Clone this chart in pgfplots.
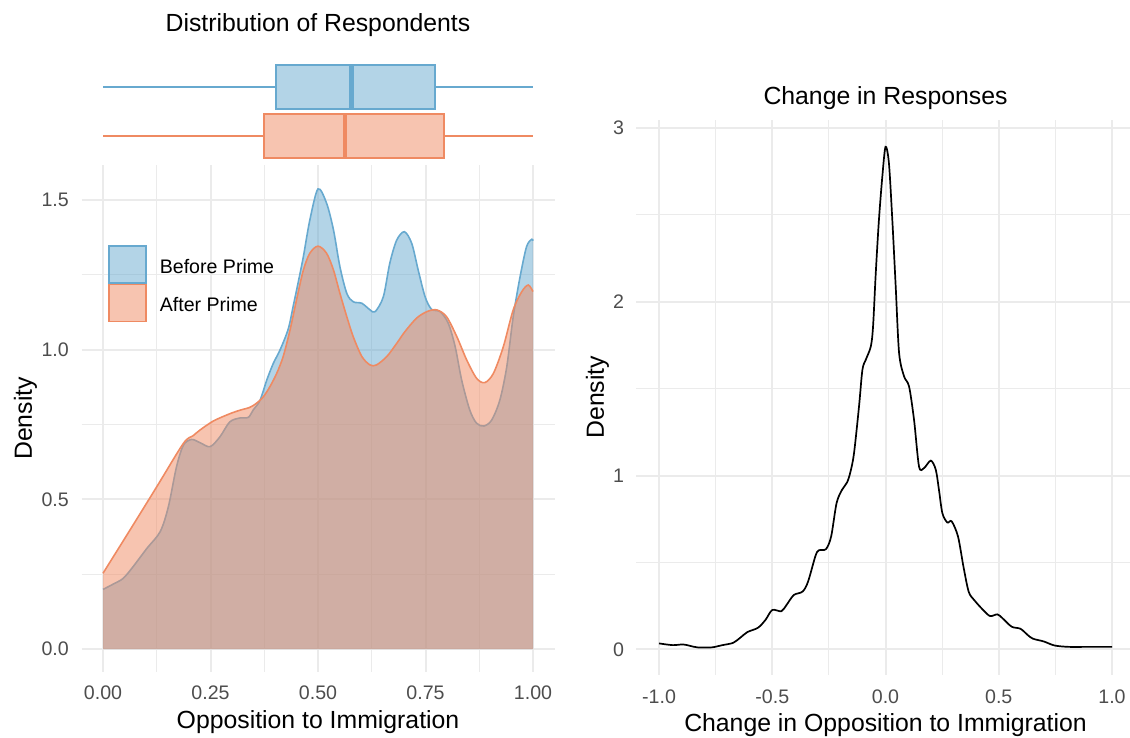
\documentclass[border=0pt]{standalone}
\usepackage{pgfplots}
\pgfplotsset{compat=1.18}
\usepgfplotslibrary{statistics}
\usepackage{fontspec}
\setmainfont{Liberation Sans}
\definecolor{bluec}{HTML}{67A9CF}
\definecolor{orangec}{HTML}{EF8A62}
\definecolor{gridc}{HTML}{EBEBEB}
\definecolor{tickc}{HTML}{4D4D4D}

\pgfplotstableread{
x y
0.000 0.199
0.024 0.217
0.047 0.236
0.070 0.275
0.102 0.336
0.133 0.392
0.152 0.475
0.171 0.609
0.187 0.681
0.206 0.700
0.226 0.689
0.249 0.676
0.272 0.709
0.295 0.759
0.319 0.772
0.338 0.774
0.350 0.800
0.365 0.830
0.381 0.899
0.396 0.954
0.412 1.000
0.431 1.070
0.443 1.150
0.454 1.225
0.466 1.311
0.481 1.433
0.500 1.537
0.520 1.489
0.536 1.400
0.551 1.277
0.567 1.188
0.582 1.160
0.602 1.155
0.621 1.133
0.633 1.127
0.652 1.177
0.667 1.289
0.683 1.366
0.701 1.394
0.718 1.355
0.733 1.266
0.749 1.177
0.764 1.135
0.784 1.127
0.803 1.088
0.819 1.010
0.834 0.899
0.853 0.798
0.869 0.754
0.886 0.745
0.904 0.765
0.923 0.832
0.939 0.943
0.954 1.110
0.970 1.244
0.985 1.344
0.997 1.369
1.000 1.364
}\before

\pgfplotstableread{
x y
0.000 0.253
0.063 0.398
0.125 0.542
0.187 0.687
0.209 0.712
0.226 0.732
0.257 0.762
0.295 0.786
0.319 0.798
0.341 0.807
0.357 0.821
0.373 0.843
0.388 0.876
0.404 0.921
0.419 0.977
0.435 1.066
0.450 1.166
0.466 1.266
0.481 1.322
0.500 1.346
0.520 1.322
0.536 1.266
0.551 1.188
0.567 1.110
0.582 1.043
0.602 0.977
0.621 0.949
0.636 0.949
0.660 0.977
0.683 1.021
0.702 1.060
0.729 1.105
0.753 1.127
0.776 1.133
0.799 1.110
0.823 1.043
0.846 0.965
0.869 0.904
0.888 0.890
0.908 0.921
0.931 1.010
0.954 1.133
0.974 1.194
0.989 1.216
1.000 1.194
}\after

\pgfplotstableread{
x y
-1.000 0.035
-0.940 0.025
-0.894 0.029
-0.863 0.021
-0.830 0.012
-0.768 0.012
-0.720 0.025
-0.673 0.038
-0.642 0.067
-0.610 0.100
-0.563 0.125
-0.530 0.170
-0.500 0.227
-0.460 0.220
-0.437 0.256
-0.405 0.313
-0.366 0.333
-0.342 0.390
-0.310 0.535
-0.295 0.570
-0.263 0.577
-0.240 0.650
-0.216 0.842
-0.192 0.918
-0.170 0.960
-0.155 1.020
-0.139 1.129
-0.117 1.397
-0.102 1.608
-0.087 1.666
-0.065 1.742
-0.055 1.857
-0.043 2.165
-0.029 2.471
-0.014 2.720
0.000 2.890
0.015 2.797
0.030 2.471
0.045 2.087
0.060 1.704
0.082 1.570
0.104 1.512
0.126 1.320
0.148 1.052
0.170 1.043
0.200 1.086
0.222 1.033
0.236 0.918
0.251 0.784
0.273 0.730
0.292 0.737
0.320 0.650
0.344 0.477
0.367 0.333
0.391 0.285
0.431 0.227
0.462 0.192
0.494 0.202
0.517 0.179
0.557 0.131
0.596 0.119
0.628 0.083
0.651 0.062
0.699 0.046
0.746 0.023
0.809 0.015
0.888 0.015
1.000 0.015
}\change

\pgfplotsset{
  gg/.style={
    scale only axis,
    anchor=south west,
    axis lines*=left,
    axis line style={draw=none},
    major tick length=0pt, minor tick length=0pt,
    xmajorgrids, ymajorgrids, xminorgrids, yminorgrids,
    major grid style={gridc, line width=1pt},
    minor grid style={gridc, line width=0.5pt},
    tick label style={font=\fontsize{9.8}{11}\selectfont, text=tickc},
    every axis x label/.style={at={(axis description cs:0.5,0)}, anchor=center, yshift=-25pt, font=\fontsize{12.4}{14}\selectfont},
    title style={font=\fontsize{12.4}{14}\selectfont, at={(axis description cs:0.5,1)}, anchor=center},
  }
}

\begin{document}
\begin{tikzpicture}
\useasboundingbox (0,0) rectangle (565pt,369pt);

% boxplots
\begin{axis}[
  scale only axis, anchor=south west, at={(40.75pt,287.5pt)},
  width=236.5pt, height=54pt,
  xmin=-0.05, xmax=1.05, ymin=0.45, ymax=2.65,
  axis lines*=left, axis line style={draw=none},
  xtick=\empty, ytick=\empty,
  boxplot/draw direction=x,
  title={Distribution of Respondents},
  title style={font=\fontsize{12.4}{14}\selectfont, at={(axis description cs:0.5,1)}, anchor=center, yshift=9pt},
]
\addplot[draw=bluec, fill=bluec, fill opacity=0.5, line width=1pt,
  boxplot/every median/.style={line width=2.2pt},
  boxplot prepared={draw position=2, lower whisker=0, lower quartile=0.403, median=0.578, upper quartile=0.7715, upper whisker=1, box extend=0.9, whisker extend=0}]
  coordinates {};
\addplot[draw=orangec, fill=orangec, fill opacity=0.5, line width=1pt,
  boxplot/every median/.style={line width=2.2pt},
  boxplot prepared={draw position=1, lower whisker=0, lower quartile=0.3735, median=0.563, upper quartile=0.792, upper whisker=1, box extend=0.9, whisker extend=0}]
  coordinates {};
\end{axis}

% densities
\begin{axis}[gg, at={(40.75pt,33pt)}, width=236.5pt, height=253.5pt,
  xmin=-0.05, xmax=1.05, ymin=-0.0768, ymax=1.617,
  xtick={0,0.25,0.5,0.75,1}, xticklabels={0.00,0.25,0.50,0.75,1.00},
  minor xtick={0.125,0.375,0.625,0.875},
  ytick={0,0.5,1,1.5}, yticklabels={0.0,0.5,1.0,1.5},
  minor ytick={0.25,0.75,1.25},
  xticklabel shift=3.4pt, yticklabel shift=2.8pt,
  xlabel={Opposition to Immigration},
  ylabel={Density},
  every axis y label/.style={at={([xshift=-28pt]axis description cs:0,0.5)}, anchor=center, rotate=90, font=\fontsize{12.4}{14}\selectfont},
  legend style={at={(axis cs:0.0116,1.3497)}, anchor=north west, draw=none, fill=none, inner sep=0pt, outer sep=0pt,
    font=\fontsize{9.8}{11}\selectfont, row sep=0pt, nodes={inner sep=0pt}},
  legend cell align=left,
]
\addplot[draw=none, fill=bluec, fill opacity=0.5, smooth,
  legend image code/.code={\draw[draw=bluec, fill=bluec, fill opacity=0.5, line width=0.8pt] (0pt,-7.6pt) rectangle (18.5pt,10.9pt); \path (25.5pt,0pt);}]
  table[x=x,y=y] {\before} \closedcycle;
\addlegendentry{Before Prime}
\addplot[draw=bluec, line width=0.8pt, smooth, forget plot] table[x=x,y=y] {\before};
\addplot[draw=none, fill=orangec, fill opacity=0.5, smooth,
  legend image code/.code={\draw[draw=orangec, fill=orangec, fill opacity=0.5, line width=0.8pt] (0pt,-7.6pt) rectangle (18.5pt,10.9pt); \path (25.5pt,0pt);}]
  table[x=x,y=y] {\after} \closedcycle;
\addlegendentry{After Prime}
\addplot[draw=orangec, line width=0.8pt, smooth, forget plot] table[x=x,y=y] {\after};
\end{axis}

% change
\begin{axis}[gg, at={(318.18pt,31.65pt)}, width=249.15pt, height=277.4pt,
  xmin=-1.1, xmax=1.1, ymin=-0.145, ymax=3.045,
  xtick={-1,-0.5,0,0.5,1}, xticklabels={-1.0,-0.5,0.0,0.5,1.0},
  minor xtick={-0.75,-0.25,0.25,0.75},
  ytick={0,1,2,3}, yticklabels={0,1,2,3},
  minor ytick={0.5,1.5,2.5},
  xticklabel shift=3.8pt, yticklabel shift=2.6pt,
  xlabel={Change in Opposition to Immigration},
  ylabel={Density},
  every axis y label/.style={at={([xshift=-19.5pt]axis description cs:0,0.5)}, anchor=center, rotate=90, font=\fontsize{12.4}{14}\selectfont},
  title={Change in Responses},
  title style={yshift=5pt},
]
\addplot[black, line width=0.85pt, smooth] table[x=x,y=y] {\change};
\end{axis}
\end{tikzpicture}
\end{document}
